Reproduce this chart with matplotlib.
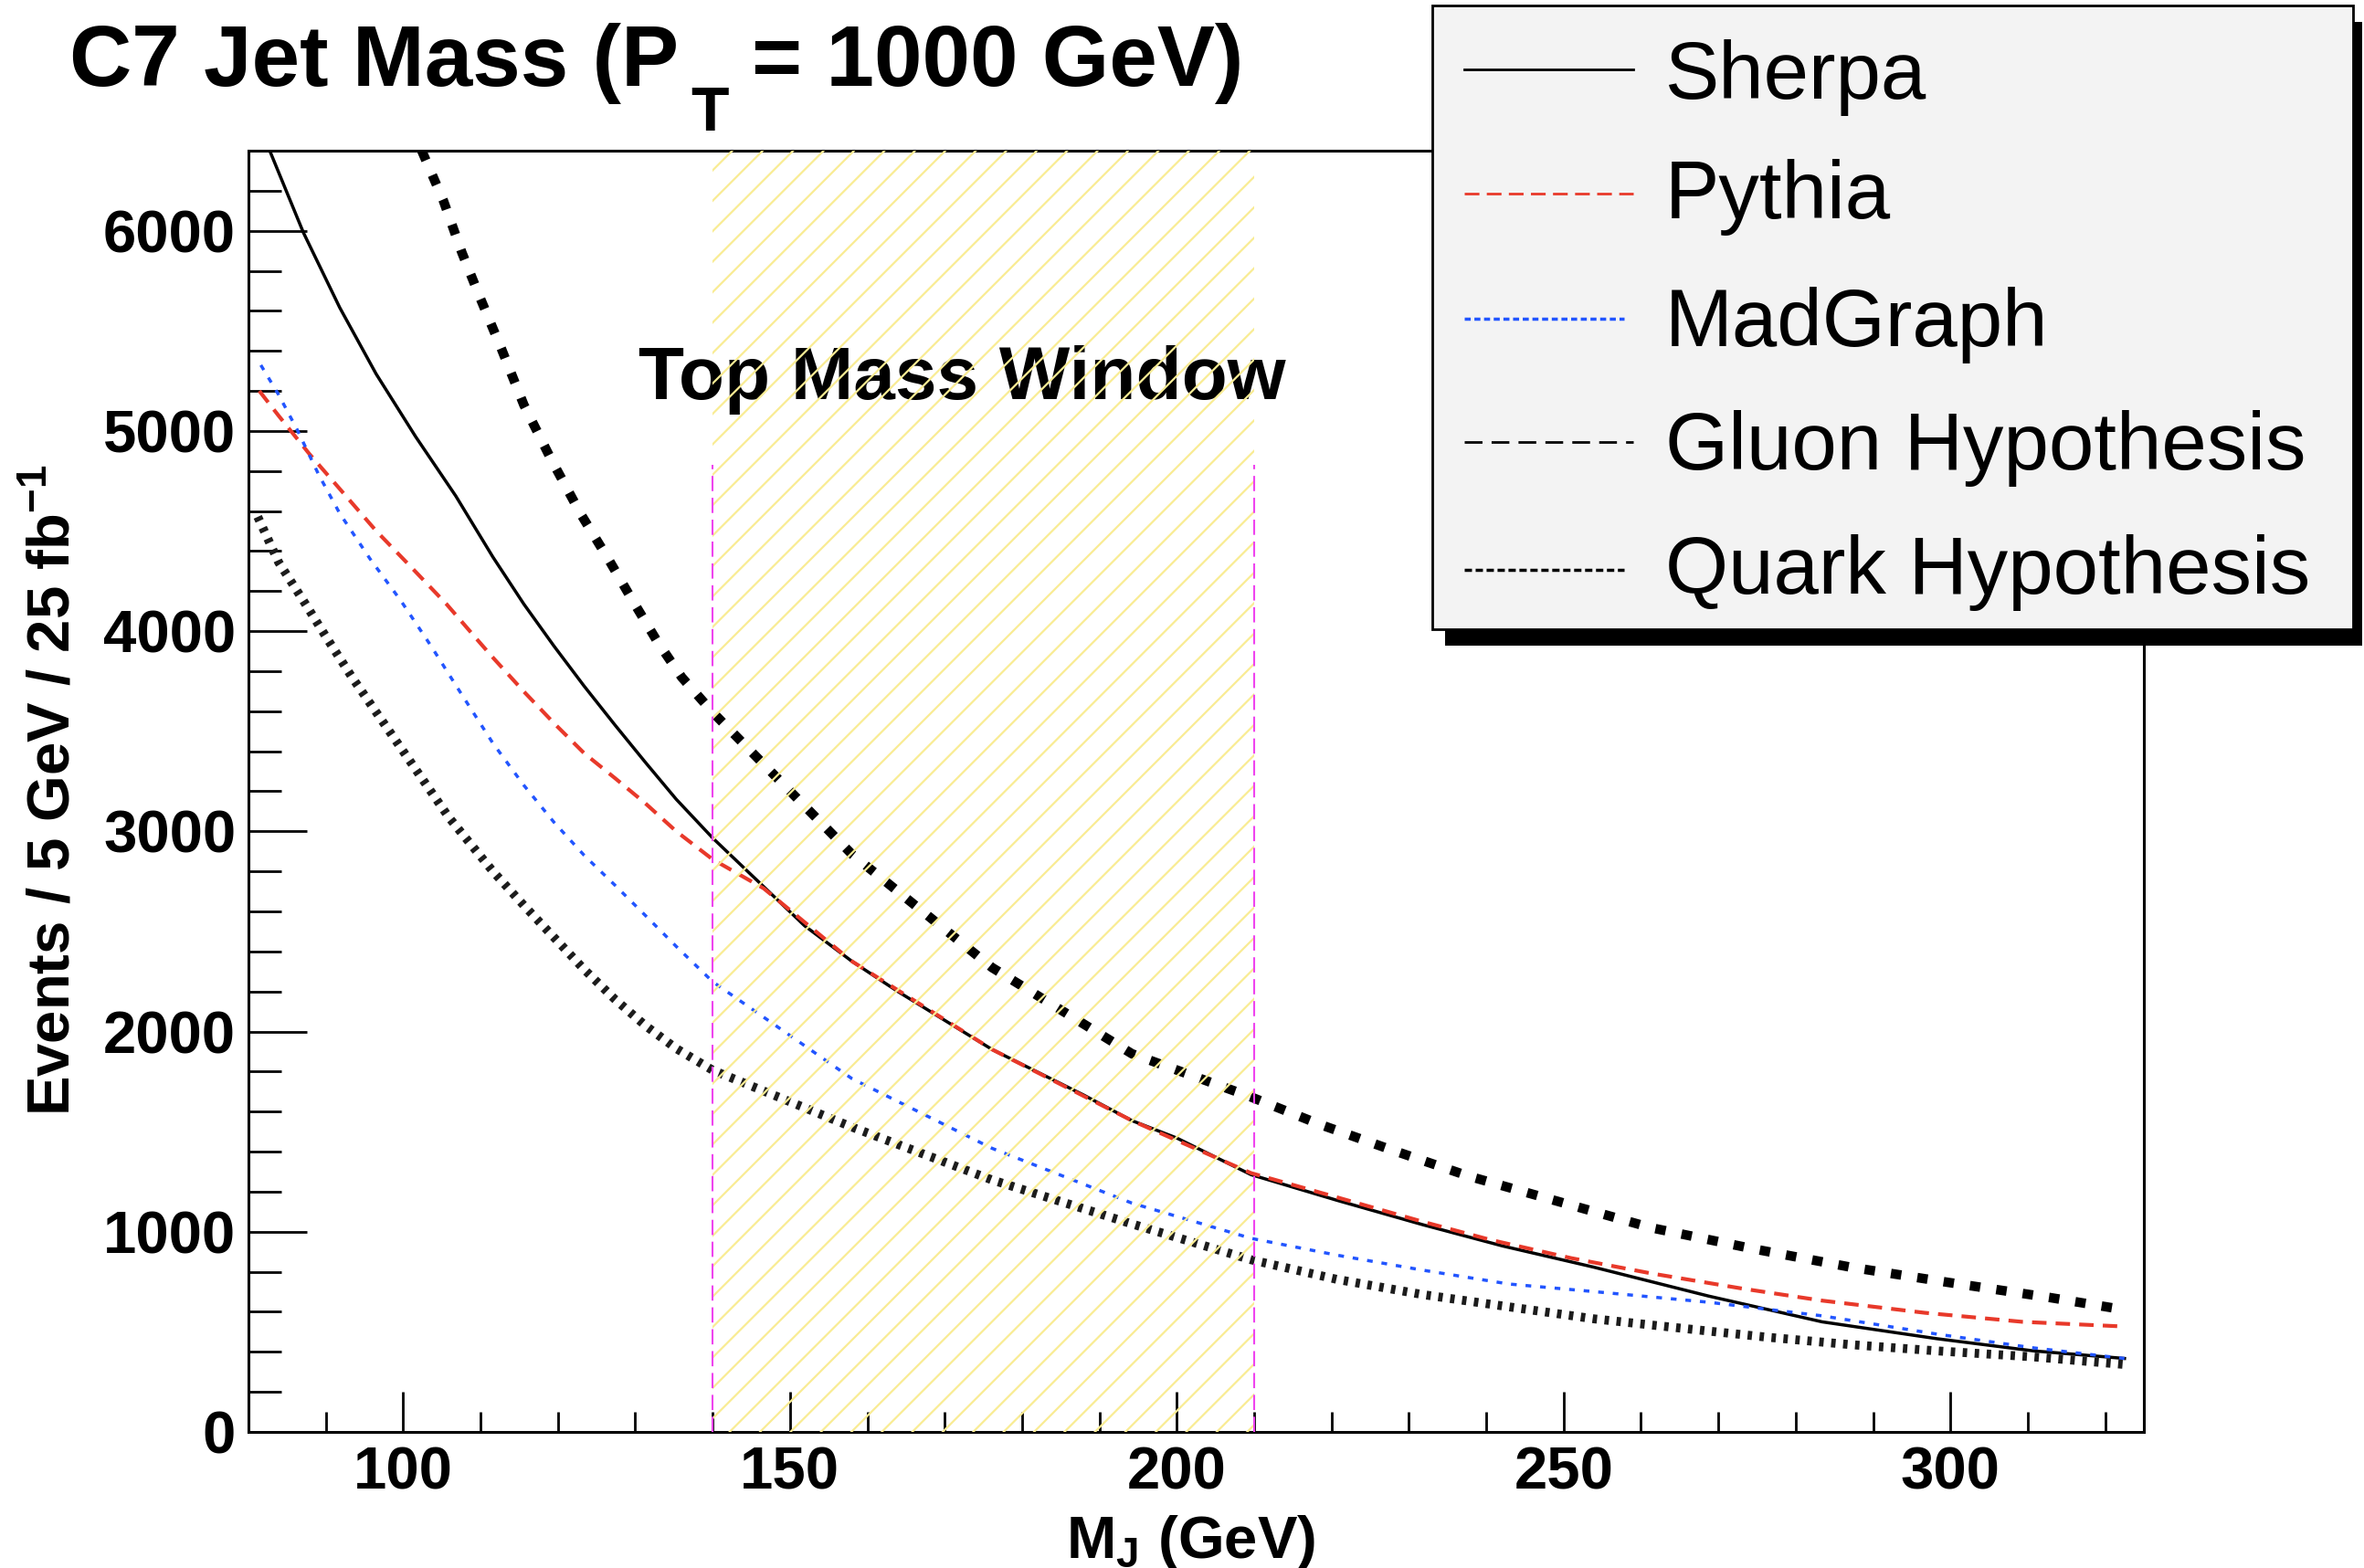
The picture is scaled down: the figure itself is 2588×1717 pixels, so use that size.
import numpy as np
import matplotlib
matplotlib.use("Agg")
import matplotlib.pyplot as plt
from matplotlib.ticker import MultipleLocator
from matplotlib.patches import Rectangle
from matplotlib.lines import Line2D

plt.rcParams['font.family'] = ['Liberation Sans', 'DejaVu Sans']
plt.rcParams['font.weight'] = 'bold'
plt.rcParams['mathtext.fontset'] = 'custom'
plt.rcParams['mathtext.rm'] = 'Liberation Sans:bold'
plt.rcParams['mathtext.bf'] = 'Liberation Sans:bold'
plt.rcParams['hatch.linewidth'] = 1.6

# values (M_J in GeV, events / 5 GeV / 25 fb^-1)
sherpa_x = [82.75, 87.1, 91.8, 96.5, 101.6, 106.8, 111.6, 115.6, 119.5, 123.4, 127.4, 131.3, 135.3, 140,
            151.9, 158, 163.9, 176.1, 188, 194.2, 200, 209.6, 220.7, 231.8, 242.1, 253.9, 268.7, 283.4,
            298.2, 310.7, 322.5]
sherpa_y = [6400, 5991, 5616, 5285, 4972, 4675, 4370, 4135, 3925, 3725, 3530, 3345, 3160, 2967,
            2528, 2351, 2201, 1911, 1682, 1555, 1468, 1285, 1157, 1035, 929, 823, 679, 550,
            466, 405, 367]

pythia_x = [81.4, 83.9, 87.9, 92.6, 96.5, 101.3, 105.6, 109.9, 111.6, 115.6, 119.5, 123.4, 127.4, 131.3,
            135.3, 140, 146.6, 158, 176.1, 194.2, 209.6, 220.7, 231.8, 240.6, 251, 261.3, 273.1, 283.4,
            296.7, 309.3, 322.2]
pythia_y = [5200, 5076, 4884, 4675, 4501, 4309, 4135, 3943, 3868, 3698, 3540, 3390, 3265, 3140,
            3000, 2860, 2715, 2351, 1911, 1555, 1293, 1172, 1050, 959, 868, 792, 716, 656,
            595, 550, 527]

madgraph_x = [81.6, 83.9, 86.3, 89.1, 91.8, 95.7, 99.7, 103.6, 106.8, 111.6, 115.6, 119.5, 123.4, 127.4,
              131.3, 135.3, 140, 158, 176.1, 194.2, 209.6, 220.7, 231.8, 242.9, 253.9, 268.7, 283.4,
              298.2, 310.7, 322.5]
madgraph_y = [5329, 5181, 5006, 4780, 4588, 4362, 4152, 3926, 3730, 3440, 3230, 3045, 2880, 2730,
              2580, 2425, 2249, 1765, 1417, 1143, 967, 883, 808, 739, 701, 648, 580,
              489, 420, 367]

gluon_x = [102.4, 105.2, 107.6, 109.9, 112.7, 115.6, 119.1, 123.0, 126.6, 129.7, 132.9, 136.0, 140,
           158, 176.1, 194.2, 209.6, 218.5, 227.3, 237.7, 249.5, 261.3, 274.6, 287.1, 299.7, 312.9, 322.5]
gluon_y = [6400, 6150, 5890, 5669, 5410, 5130, 4860, 4582, 4355, 4150, 3945, 3770, 3595,
           2886, 2320, 1889, 1673, 1536, 1415, 1278, 1149, 1020, 914, 823, 747, 671, 610]

quark_x = [81.2, 83.9, 87.1, 90.2, 93.4, 105.9, 111.6, 115.6, 119.5, 123.4, 127.4, 131.3, 135.3, 140,
           158, 176.1, 194.2, 209.6, 220.7, 231.8, 242.9, 253.9, 265, 276.1, 287.1, 298.2, 310.7, 322.5]
quark_y = [4571, 4344, 4152, 3961, 3769, 3070, 2800, 2630, 2470, 2310, 2160, 2030, 1915, 1807,
           1523, 1259, 1039, 860, 762, 686, 625, 565, 519, 474, 436, 405, 375, 337]

window = [140, 210]
window_line_top = 4830
xlim = (80, 325)
ylim = (0, 6400)

labels = ["Sherpa", "Pythia", "MadGraph", "Gluon Hypothesis", "Quark Hypothesis"]

W, H = 2588, 1717
def fx(px):
    return px / W
def fy(py):
    return 1 - py / H

fig = plt.figure(figsize=(W / 100, H / 100), dpi=100)
ax = fig.add_axes([fx(272), fy(1568), 2075 / W, 1403 / H])

ax.plot(sherpa_x, sherpa_y, color='black', lw=2.5, zorder=3)
ax.plot(pythia_x, pythia_y, color='#e8392a', lw=3, dashes=(3.8, 2.4), zorder=3)
ax.plot(madgraph_x, madgraph_y, color='#2255ff', lw=2.5, dashes=(1.8, 2.8), zorder=3)
ax.plot(gluon_x, gluon_y, color='black', lw=7.5, dashes=(1.1, 1.7), zorder=3)
ax.plot(quark_x, quark_y, color='#1c1c1c', lw=7, dashes=(0.5, 0.85), zorder=3)

# top mass window: hatched band on top of the curves + magenta edges
ax.axvspan(window[0], window[1], facecolor='none', edgecolor='#f9ec94', hatch='/', lw=0, zorder=4)
ax.vlines(window, 0, window_line_top, colors='#ee44ee', lw=1.5, linestyles=(0, (8, 3.5)), zorder=5)
ax.text(172.2, 5158, "Top Mass Window", fontsize=59, fontweight='bold', ha='center', va='baseline', zorder=2)

ax.set_xlim(*xlim)
ax.set_ylim(*ylim)
ax.set_xticks([100, 150, 200, 250, 300])
ax.xaxis.set_minor_locator(MultipleLocator(10))
ax.yaxis.set_major_locator(MultipleLocator(1000))
ax.yaxis.set_minor_locator(MultipleLocator(200))
ax.tick_params(axis='x', which='major', direction='in', length=32, width=2, labelsize=47, pad=11, top=False)
ax.tick_params(axis='x', which='minor', direction='in', length=16, width=2, top=False)
ax.tick_params(axis='y', which='major', direction='in', length=46, width=2, labelsize=47, pad=10, right=False)
ax.tick_params(axis='y', which='minor', direction='in', length=26, width=2, right=False)
for s in ax.spines.values():
    s.set_linewidth(2.2)

# title with a lowered T subscript
fig.text(fx(76), fy(94), "C7 Jet Mass (P", fontsize=68, fontweight='bold', va='baseline')
fig.text(fx(756), fy(143), "T", fontsize=49, fontweight='bold', va='baseline')
fig.text(fx(823), fy(94), "= 1000 GeV)", fontsize=68, fontweight='bold', va='baseline')

fig.text(fx(58), fy(865), r"Events / 5 GeV / 25 fb$^{\mathbf{-1}}$", fontsize=47, fontweight='bold',
         rotation=90, ha='center', va='center')
fig.text(fx(1304), fy(1706), r"M$_{\mathbf{J}}$ (GeV)", fontsize=47, fontweight='bold', ha='center', va='baseline')

# legend box drawn by hand (ROOT style with heavy shadow)
fig.add_artist(Rectangle((fx(1582), fy(707)), (2586 - 1582) / W, (707 - 24) / H,
                         transform=fig.transFigure, facecolor='black', edgecolor='none', zorder=10))
fig.add_artist(Rectangle((fx(1568), fy(689)), (2576 - 1568) / W, (689 - 6) / H,
                         transform=fig.transFigure, facecolor='#f3f3f3', edgecolor='black', lw=2, zorder=11))

leg_y = [76, 212, 349, 484, 624]
leg_base = [108, 239, 379, 514, 650]
leg_style = [
    dict(color='black', lw=2),
    dict(color='#e8392a', lw=2, dashes=(5.8, 2.9)),
    dict(color='#2255ff', lw=2.5, dashes=(1.9, 1.15)),
    dict(color='black', lw=2, dashes=(7, 3.6)),
    dict(color='black', lw=2.5, dashes=(2.3, 1.15)),
]
leg_end = [1788, 1788, 1778, 1788, 1778]
for lab, y, yb, st, xe in zip(labels, leg_y, leg_base, leg_style, leg_end):
    fig.add_artist(Line2D([fx(1603), fx(xe)], [fy(y), fy(y)], transform=fig.transFigure, zorder=12, **st))
    fig.text(fx(1823), fy(yb), lab, fontsize=64, fontweight='normal', va='baseline', zorder=12)

fig.savefig("out.png", dpi=100)
